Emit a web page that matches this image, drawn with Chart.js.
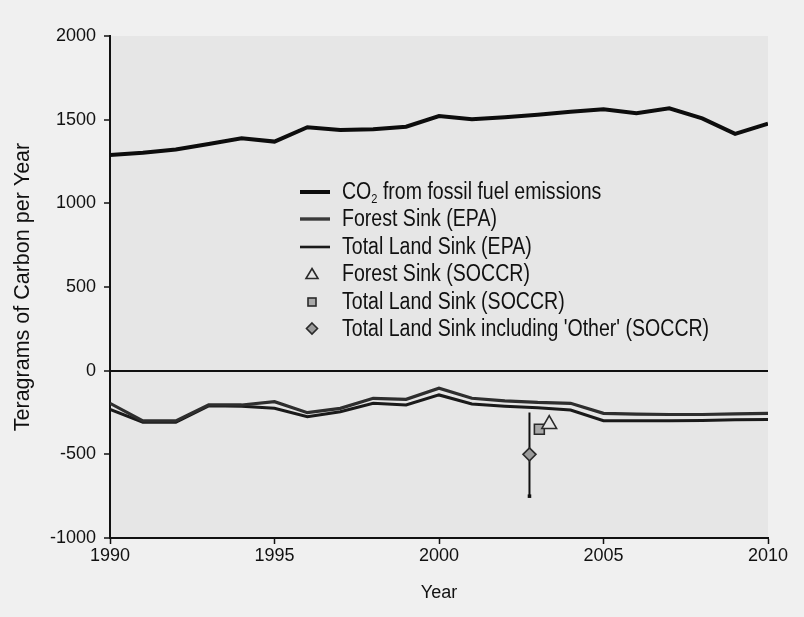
<!DOCTYPE html>
<html>
<head>
<meta charset="utf-8">
<script src="https://cdn.jsdelivr.net/npm/chart.js@4.4.1/dist/chart.umd.min.js"></script>
<style>
  html, body { margin: 0; padding: 0; background: #f0f0f0; }
  #wrap { position: relative; width: 804px; height: 617px; }
  #chart { position: absolute; left: 0; top: 0; }
  #legend {
    position: absolute; left: 298px; top: 178px;
    font-family: "Liberation Sans", Arial, sans-serif;
    font-size: 23px; color: #111;
  }
  .row { position: relative; height: 27.4px; line-height: 27.4px; white-space: nowrap; }
  .sym { position: absolute; left: 0; top: 0; width: 36px; height: 27.4px; }
  /* condensed legend lettering */
  .txt { position: absolute; left: 44px; top: 0; transform: scaleX(0.85); transform-origin: 0 50%; }
  sub { font-size: 13px; vertical-align: -4px; line-height: 0; }
</style>
</head>
<body>
<div id="wrap">
  <canvas id="chart" width="804" height="617"></canvas>
  <div id="legend"></div>
</div>
<script>
// Annual carbon flux, teragrams of carbon per year
const years = [1990, 1991, 1992, 1993, 1994, 1995, 1996, 1997, 1998, 1999, 2000,
               2001, 2002, 2003, 2004, 2005, 2006, 2007, 2008, 2009, 2010];
const fossilCO2 = [1289, 1302, 1322, 1355, 1389, 1369, 1455, 1438, 1443, 1458, 1522,
                   1502, 1515, 1530, 1548, 1562, 1538, 1568, 1508, 1415, 1476];
const forestSinkEPA = [-195, -300, -300, -205, -205, -185, -251, -225, -165, -171, -105,
                       -165, -180, -190, -195, -255, -260, -262, -262, -258, -255];
const totalLandSinkEPA = [-231, -308, -308, -210, -212, -225, -275, -245, -195, -205, -145,
                          -199, -212, -222, -235, -299, -300, -300, -298, -293, -292];

// SOCCR estimates (single-year points, spread slightly along x so they stay readable)
const soccrForestSink = [{ x: 2003.35, y: -320 }];
const soccrTotalLandSink = [{ x: 2003.05, y: -350 }];
const soccrTotalWithOther = [{ x: 2002.75, y: -500 }];
const soccrOtherRange = [-250, -750];

const seriesNames = [
  "CO2 from fossil fuel emissions",
  "Forest Sink (EPA)",
  "Total Land Sink (EPA)",
  "Forest Sink (SOCCR)",
  "Total Land Sink (SOCCR)",
  "Total Land Sink including 'Other' (SOCCR)"
];

const yTicks = [-1000, -500, 0, 500, 1000, 1500, 2000];
const xTicks = [1990, 1995, 2000, 2005, 2010];

const toXY = vals => vals.map((v, i) => ({ x: years[i], y: v }));

const FONT = "'Liberation Sans', Arial, sans-serif";

const plotBackground = {
  id: 'plotBackground',
  beforeDraw(chart) {
    const { ctx, chartArea: a } = chart;
    ctx.save();
    ctx.fillStyle = '#e6e6e6';
    ctx.fillRect(a.left, a.top, a.right - a.left, a.bottom - a.top);
    ctx.restore();
  }
};

const chart = new Chart(document.getElementById('chart'), {
  type: 'line',
  data: {
    datasets: [
      { label: seriesNames[0], data: toXY(fossilCO2), borderColor: '#0d0d0d', borderWidth: 4,
        pointRadius: 0, tension: 0, order: 1 },
      { label: seriesNames[1], data: toXY(forestSinkEPA), borderColor: '#2e2e2e', borderWidth: 3.2,
        pointRadius: 0, tension: 0, order: 2 },
      { label: seriesNames[2], data: toXY(totalLandSinkEPA), borderColor: '#1a1a1a', borderWidth: 3,
        pointRadius: 0, tension: 0, order: 3 },
      { label: seriesNames[3], data: soccrForestSink, showLine: false, pointStyle: 'triangle',
        pointRadius: 8.5, backgroundColor: '#e4e4e4', borderColor: '#2a2a2a', borderWidth: 1.6, order: 0 },
      { label: seriesNames[4], data: soccrTotalLandSink, showLine: false, pointStyle: 'rect',
        pointRadius: 7, backgroundColor: '#a8a8a8', borderColor: '#2a2a2a', borderWidth: 1.6, order: 0 },
      { label: seriesNames[5], data: soccrTotalWithOther, showLine: false, pointStyle: 'rectRot',
        pointRadius: 6.5, backgroundColor: '#9a9a9a', borderColor: '#2a2a2a', borderWidth: 1.6, order: 0 },
      { label: 'range', data: soccrOtherRange.map(v => ({ x: soccrTotalWithOther[0].x, y: v })),
        borderColor: '#111', borderWidth: 2, pointStyle: 'rect', pointRadius: [0, 2.5],
        pointBackgroundColor: '#111', pointBorderWidth: 0, order: 5 }
    ]
  },
  options: {
    responsive: false,
    animation: false,
    events: [],
    layout: { padding: { top: 36, right: 36, left: 0, bottom: 0 } },
    plugins: { legend: { display: false }, tooltip: { enabled: false } },
    scales: {
      x: {
        type: 'linear', min: 1990, max: 2010,
        afterBuildTicks: s => { s.ticks = xTicks.map(v => ({ value: v })); },
        afterFit: s => { s.height = 79; },
        ticks: { color: '#111', font: { family: FONT, size: 18 }, padding: 1, callback: v => String(v) },
        grid: { drawOnChartArea: false, tickLength: 6, tickColor: '#111', tickWidth: 1.5 },
        border: { color: '#111', width: 2 },
        title: { display: true, text: 'Year', color: '#111', font: { family: FONT, size: 18 },
                 padding: { top: 0, bottom: 13 } }
      },
      y: {
        type: 'linear', min: -1000, max: 2000,
        afterBuildTicks: s => { s.ticks = yTicks.map(v => ({ value: v })); },
        afterFit: s => { s.width = 110; },
        ticks: { color: '#111', font: { family: FONT, size: 18 }, padding: 8, callback: v => String(v) },
        grid: {
          drawOnChartArea: true, tickLength: 6, tickColor: '#111', tickWidth: 1.5,
          color: c => (c.tick && c.tick.value === 0) ? '#111' : 'rgba(0,0,0,0)',
          lineWidth: c => (c.tick && c.tick.value === 0) ? 2 : 0
        },
        border: { color: '#111', width: 2 },
        title: { display: true, text: 'Teragrams of Carbon per Year', color: '#111',
                 font: { family: FONT, size: 21.5 }, padding: { top: 10, bottom: 0 } }
      }
    }
  },
  plugins: [plotBackground]
});

// Legend built from the dataset styles
const legendSymbols = [
  '<svg width="36" height="28"><line x1="2" y1="14" x2="32" y2="14" stroke="#0d0d0d" stroke-width="4"/></svg>',
  '<svg width="36" height="28"><line x1="2" y1="14" x2="32" y2="14" stroke="#3a3a3a" stroke-width="3.4"/></svg>',
  '<svg width="36" height="28"><line x1="2" y1="14" x2="32" y2="14" stroke="#1a1a1a" stroke-width="2.6"/></svg>',
  '<svg width="36" height="28"><polygon points="14,8.5 20,18.5 8,18.5" fill="#e4e4e4" stroke="#2a2a2a" stroke-width="1.6"/></svg>',
  '<svg width="36" height="28"><rect x="10" y="10" width="8" height="8" fill="#a8a8a8" stroke="#2a2a2a" stroke-width="1.6"/></svg>',
  '<svg width="36" height="28"><polygon points="14,8 19.5,13.5 14,19 8.5,13.5" fill="#9a9a9a" stroke="#2a2a2a" stroke-width="1.6"/></svg>'
];
const legendEl = document.getElementById('legend');
seriesNames.forEach((name, i) => {
  const row = document.createElement('div');
  row.className = 'row';
  const label = name.replace(/^CO2/, 'CO<sub>2</sub>');
  row.innerHTML = '<span class="sym">' + legendSymbols[i] + '</span><span class="txt">' + label + '</span>';
  legendEl.appendChild(row);
});
</script>
</body>
</html>
